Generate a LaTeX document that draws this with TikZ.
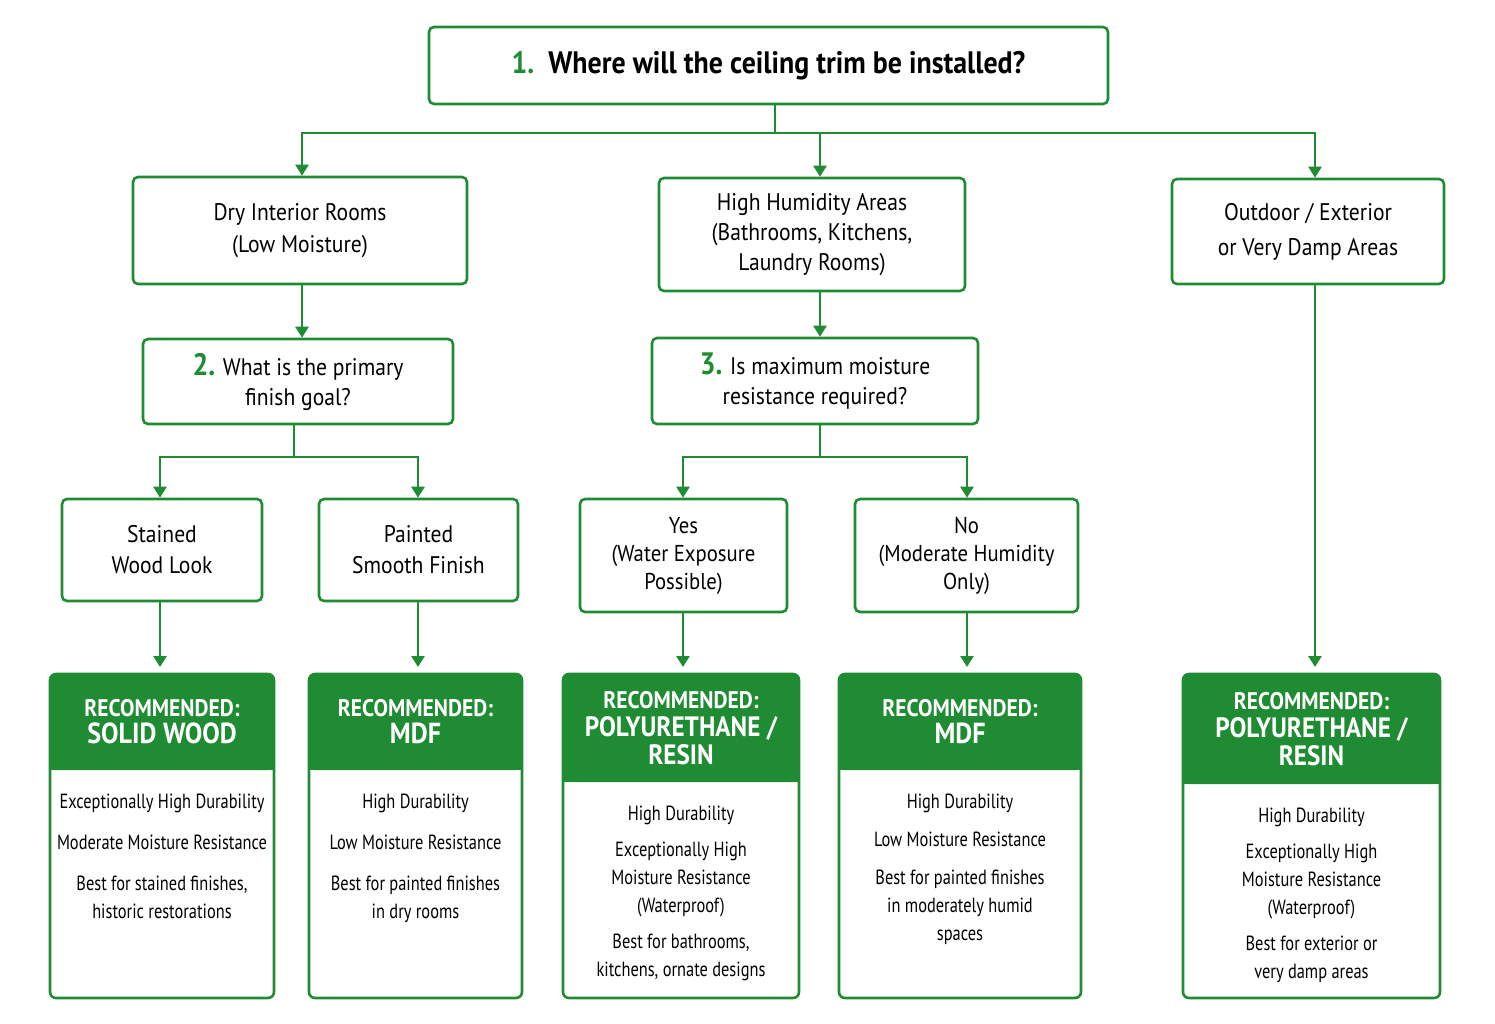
\documentclass[tikz,border=0pt]{standalone}
\usepackage{fontspec}
\setmainfont{PT Sans}[FakeStretch=0.9]
\newfontfamily\cond{PT Sans}[FakeStretch=0.8]
\usetikzlibrary{arrows.meta}
\definecolor{g}{HTML}{1F8B32}
\begin{document}
\begin{tikzpicture}[x=1pt,y=-1pt,
 box/.style={draw=g,line width=2.6pt,rounded corners=5pt,fill=white,align=center,inner sep=0pt},
 arr/.style={draw=g,line width=2.6pt,-{Triangle[length=11pt,width=13pt]}},
 ln/.style={draw=g,line width=2.6pt},
 body/.style={font=\cond\fontsize{20.5}{28}\selectfont,align=center,anchor=north},
 hd/.style={font=\fontsize{24}{29}\selectfont\bfseries,text=white,align=center}]
\useasboundingbox (0,0) rectangle (1495,1024);
\fill[white] (0,0) rectangle (1495,1024);
\newcommand\bx[7]{\node[box,font=#6,minimum width=#4-#2,minimum height=#5-#3] (#1) at ({(#2+#4)/2},{(#3+#5)/2}) {#7};}
\bx{top}{429}{27}{1108}{104}{\fontsize{31}{36}\selectfont\bfseries}{\textcolor{g}{1.}\ \ Where will the ceiling trim be installed?}
\bx{dry}{133}{177}{467}{284}{\fontsize{24}{32}\selectfont}{Dry Interior Rooms\\(Low Moisture)}
\bx{hum}{659}{178}{965}{291}{\fontsize{24}{30}\selectfont}{High Humidity Areas\\(Bathrooms, Kitchens,\\Laundry Rooms)}
\bx{out}{1172}{179}{1444}{284}{\fontsize{24}{35}\selectfont}{Outdoor / Exterior\\or Very Damp Areas}
\bx{q2}{143}{339}{453}{424}{\fontsize{24}{30}\selectfont}{{\fontsize{31}{30}\selectfont\bfseries\textcolor{g}{2.}} What is the primary\\finish goal?}
\bx{q3}{652}{338}{978}{424}{\fontsize{24}{30}\selectfont}{{\fontsize{31}{30}\selectfont\bfseries\textcolor{g}{3.}} Is maximum moisture\\resistance required?}
\bx{st}{62}{499}{262}{601}{\fontsize{24}{31}\selectfont}{Stained\\Wood Look}
\bx{pa}{319}{499}{518}{601}{\fontsize{24}{31}\selectfont}{Painted\\Smooth Finish}
\bx{yes}{580}{499}{787}{612}{\fontsize{23}{28}\selectfont}{Yes\\(Water Exposure\\Possible)}
\bx{no}{855}{499}{1078}{612}{\fontsize{23}{28}\selectfont}{No\\(Moderate Humidity\\Only)}
% rec boxes
\newcommand\rec[7]{%
 \fill[g,rounded corners=6pt] (#2,#3) rectangle (#4,#5);
 \fill[g] (#2,#5-12) rectangle (#4,#5);
 \node[draw=g,line width=2.6pt,rounded corners=6pt,minimum width=#4-#2,minimum height=998-#3,inner sep=0pt] (#1) at ({(#2+#4)/2},{(#3+998)/2}) {};
 \node[hd] at ({(#2+#4)/2},{(#3+#5)/2}) {#6};
 \node[body] at ({(#2+#4)/2},#5+20) {#7};}
\rec{r1}{50}{674}{274}{770}{RECOMMENDED:\\[-2pt]{\fontsize{29}{30}\selectfont SOLID WOOD}}{Exceptionally High Durability\\[13pt]Moderate Moisture Resistance\\[13pt]Best for stained finishes,\\historic restorations}
\rec{r2}{309}{674}{522}{770}{RECOMMENDED:\\[-2pt]{\fontsize{29}{30}\selectfont MDF}}{High Durability\\[13pt]Low Moisture Resistance\\[13pt]Best for painted finishes\\in dry rooms}
\rec{r3}{563}{674}{799}{782}{RECOMMENDED:\\[-1pt]{\fontsize{28}{30}\selectfont POLYURETHANE /}\\[-1pt]{\fontsize{28}{30}\selectfont RESIN}}{High Durability\\[8pt]Exceptionally High\\Moisture Resistance\\(Waterproof)\\[8pt]Best for bathrooms,\\kitchens, ornate designs}
\rec{r4}{839}{674}{1081}{770}{RECOMMENDED:\\[-2pt]{\fontsize{29}{30}\selectfont MDF}}{High Durability\\[10pt]Low Moisture Resistance\\[10pt]Best for painted finishes\\in moderately humid\\spaces}
\rec{r5}{1183}{674}{1440}{784}{RECOMMENDED:\\[-1pt]{\fontsize{28}{30}\selectfont POLYURETHANE /}\\[-1pt]{\fontsize{28}{30}\selectfont RESIN}}{High Durability\\[8pt]Exceptionally High\\Moisture Resistance\\(Waterproof)\\[8pt]Best for exterior or\\very damp areas}
% connectors
\coordinate (j1) at (775,133);
\draw[ln] (top.south -| j1) -- (j1);
\draw[arr] (j1) -| (dry.north -| 302,0);
\draw[arr] (j1) -| (hum.north -| 820,0);
\draw[arr] (j1) -| (out.north -| 1315,0);
\draw[arr] (dry.south -| 302,0) -- (q2.north -| 302,0);
\draw[arr] (hum.south -| 820,0) -- (q3.north -| 820,0);
\coordinate (j2) at (294,457);
\draw[ln] (q2.south -| j2) -- (j2);
\draw[arr] (j2) -| (st.north -| 160,0);
\draw[arr] (j2) -| (pa.north -| 418,0);
\coordinate (j3) at (820,457);
\draw[ln] (q3.south -| j3) -- (j3);
\draw[arr] (j3) -| (yes.north -| 683,0);
\draw[arr] (j3) -| (no.north -| 967,0);
\draw[arr] (st.south -| 160,0) -- (160,667);
\draw[arr] (pa.south -| 418,0) -- (418,667);
\draw[arr] (yes.south -| 683,0) -- (683,667);
\draw[arr] (no.south -| 967,0) -- (967,667);
\draw[arr] (out.south -| 1315,0) -- (1315,667);
\end{tikzpicture}
\end{document}
